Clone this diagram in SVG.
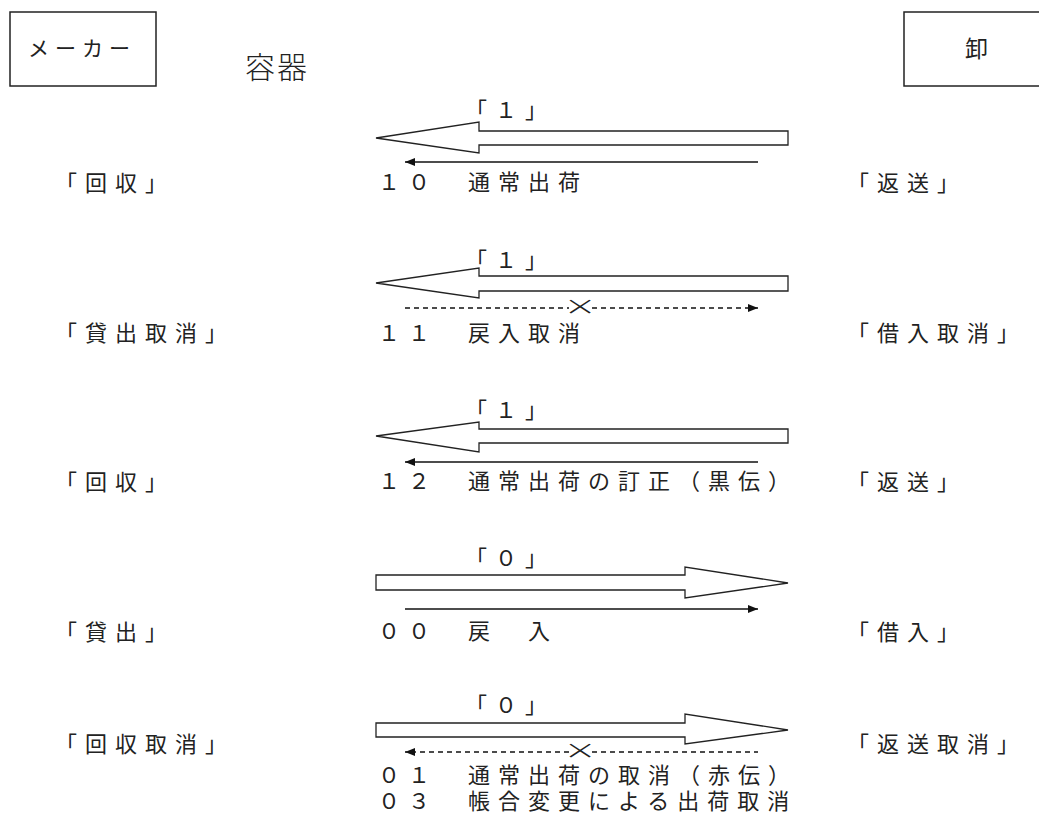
<svg xmlns="http://www.w3.org/2000/svg" width="1039" height="830" viewBox="0 0 1039 830">
<style>
text{font-family:"Noto Sans CJK JP","Noto Sans CJK SC",sans-serif;fill:#222;}
.t{font-size:22px;letter-spacing:8px;}
.x{font-size:24px;font-family:"DejaVu Sans",sans-serif;font-weight:300;}
.box{fill:#fff;stroke:#222;stroke-width:1.5;}
.big{fill:#fff;stroke:#222;stroke-width:1.3;}
.thin{stroke:#111;stroke-width:1.3;fill:none;}
.dash{stroke:#111;stroke-width:1.3;fill:none;stroke-dasharray:5,4;}
</style>
<defs>
<marker id="ah" viewBox="0 0 10 8" refX="10" refY="4" markerWidth="10" markerHeight="8" markerUnits="userSpaceOnUse" orient="auto-start-reverse">
<path d="M0,0 L10,4 L0,8 Z" fill="#111"/>
</marker>
</defs>
<rect width="1039" height="830" fill="#fff"/>
<g id="maker">
<rect class="box" x="10" y="12" width="146" height="74"/>
<text x="28" y="56" style="font-size:21px;letter-spacing:6px">メーカー</text>
</g>
<g id="oroshi">
<rect class="box" x="904" y="12" width="150" height="74"/>
<text x="965" y="57" style="font-size:23px">卸</text>
</g>
<g id="title">
<text x="245" y="78" style="font-size:30px;letter-spacing:2px;font-weight:300">容器</text>
</g>
<g id="connectors">
<polygon class="big" points="788,131 479,131 479,122 376,138 479,153 479,145 788,145"/>
<line class="thin" x1="758" y1="162" x2="405" y2="162" marker-end="url(#ah)"/>
<polygon class="big" points="788,276 479,276 479,268 376,283 479,298 479,291 788,291"/>
<line class="dash" x1="405" y1="308" x2="569" y2="308"/>
<line class="dash" x1="592" y1="308" x2="758" y2="308" marker-end="url(#ah)"/>
<polygon class="big" points="788,429 479,429 479,422 376,436 479,452 479,443 788,443"/>
<line class="thin" x1="758" y1="462" x2="405" y2="462" marker-end="url(#ah)"/>
<polygon class="big" points="376,575 685,575 685,567 788,583 685,598 685,590 376,590"/>
<line class="thin" x1="405" y1="609" x2="758" y2="609" marker-end="url(#ah)"/>
<polygon class="big" points="376,723 685,723 685,714 788,730 685,744 685,737 376,737"/>
<line class="dash" x1="569" y1="752" x2="405" y2="752" marker-end="url(#ah)"/>
<line class="dash" x1="592" y1="752" x2="758" y2="752"/>
</g>
<g id="row1">
<text class="t" x="465" y="118">「１」</text>
<text class="t" x="55" y="191">「回収」</text>
<text class="t" x="378" y="190">１０　通常出荷</text>
<text class="t" x="847" y="191">「返送」</text>
</g>
<g id="row2">
<text class="t" x="465" y="268">「１」</text>
<text class="x" transform="translate(580,308) scale(1.7,1.1)" x="0" y="6.5" text-anchor="middle">×</text>
<text class="t" x="55" y="341">「貸出取消」</text>
<text class="t" x="378" y="341">１１　戻入取消</text>
<text class="t" x="847" y="341">「借入取消」</text>
</g>
<g id="row3">
<text class="t" x="465" y="418">「１」</text>
<text class="t" x="55" y="490">「回収」</text>
<text class="t" x="378" y="489">１２　通常出荷の訂正（黒伝）</text>
<text class="t" x="847" y="490">「返送」</text>
</g>
<g id="row4">
<text class="t" x="465" y="566">「０」</text>
<text class="t" x="55" y="640">「貸出」</text>
<text class="t" x="378" y="639">００　戻　入</text>
<text class="t" x="847" y="640">「借入」</text>
</g>
<g id="row5">
<text class="t" x="465" y="713">「０」</text>
<text class="x" transform="translate(580,752) scale(1.7,1.1)" x="0" y="6.5" text-anchor="middle">×</text>
<text class="t" x="55" y="752">「回収取消」</text>
<text class="t" x="847" y="752">「返送取消」</text>
<text class="t" x="378" y="783">０１　通常出荷の取消（赤伝）</text>
<text class="t" x="378" y="809">０３　帳合変更による出荷取消</text>
</g>
</svg>
